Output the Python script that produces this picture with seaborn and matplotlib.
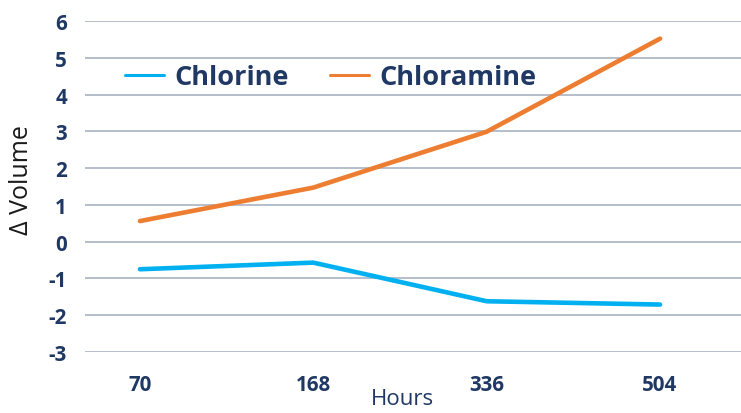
import matplotlib
matplotlib.use("Agg")
import matplotlib.pyplot as plt
import seaborn as sns
import pandas as pd

hours = ["70", "168", "336", "504"]
chlorine = [-0.75, -0.57, -1.62, -1.71]
chloramine = [0.56, 1.47, 2.99, 5.52]
series_names = ["Chlorine", "Chloramine"]
yticks = [-3, -2, -1, 0, 1, 2, 3, 4, 5, 6]

df = pd.DataFrame({
    "Hours": hours * 2,
    "value": chlorine + chloramine,
    "series": [series_names[0]] * 4 + [series_names[1]] * 4,
})

sns.set_theme(style="white")
plt.rcParams["font.family"] = ["Open Sans", "DejaVu Sans"]
navy = "#1F3864"

fig = plt.figure(figsize=(7.41, 4.14), dpi=100)
ax = fig.add_axes([85/741, 61/414, (741-85)/741, 331/414])

sns.lineplot(data=df, x="Hours", y="value", hue="series",
             palette={"Chlorine": "#00B0F0", "Chloramine": "#ED7D31"},
             linewidth=3.3, ax=ax, sort=False, legend=True)

ax.set_ylim(-3, 6)
ax.set_xlim(-0.317, 3.467)
ax.set_yticks(yticks)
ax.set_yticklabels([str(v) for v in yticks])
ax.yaxis.grid(True, color="#A9B1C2", linewidth=1.2)
ax.set_axisbelow(True)
for s in ax.spines.values():
    s.set_visible(False)
ax.tick_params(axis="both", length=0, labelsize=14.8, labelcolor=navy)
for lab in ax.get_xticklabels() + ax.get_yticklabels():
    lab.set_fontweight("bold")
ax.tick_params(axis="x", pad=16)
ax.tick_params(axis="y", pad=13)

ax.set_ylabel("")
ax.set_xlabel("")
fig.text(22/741, 1 - 180/414, "Δ Volume", ha="center", va="center",
         rotation=90, fontsize=18, color="#1a1a1a")
fig.text(402/741, 1 - 400/414, "Hours", ha="center", va="center",
         fontsize=16, color=navy)

handles, labels = ax.get_legend_handles_labels()
leg = ax.legend(handles, labels, ncol=2, frameon=False, loc="center left",
                bbox_to_anchor=(40/656, (353-78)/331), prop={"weight": "bold", "size": 19.5},
                labelcolor=navy, handlelength=1.45, columnspacing=1.52, handletextpad=0.37,
                borderpad=0, borderaxespad=0)
for h in leg.get_lines():
    h.set_linewidth(2.2)

fig.savefig("out.png", dpi=100)
